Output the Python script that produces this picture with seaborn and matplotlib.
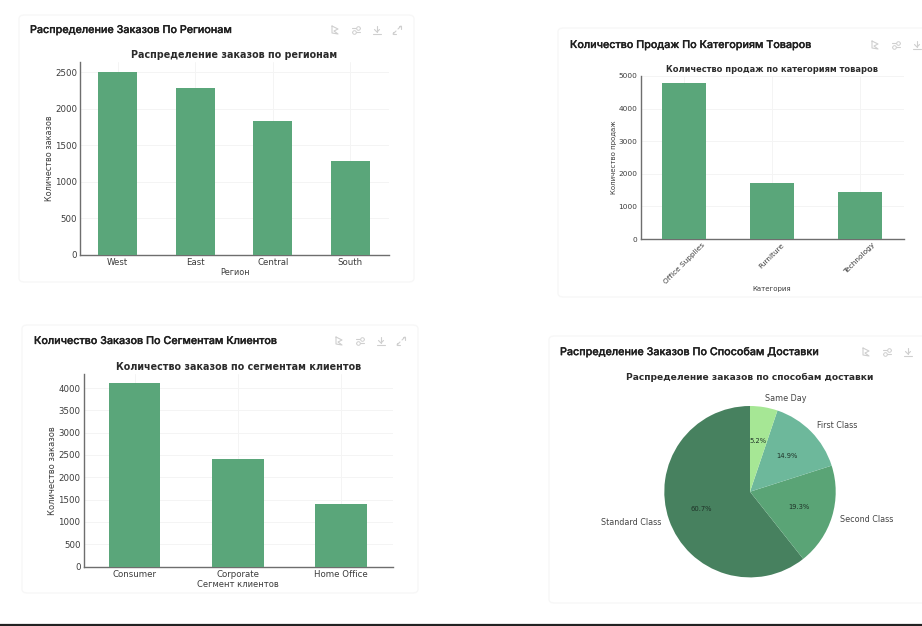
import matplotlib
matplotlib.use("Agg")
import matplotlib.pyplot as plt
import matplotlib.patheffects as pe
from matplotlib.patches import FancyBboxPatch
from matplotlib.lines import Line2D
import pandas as pd
import seaborn as sns

# ---------- data ----------
regions = ["West", "East", "Central", "South"]
region_orders = [2500, 2290, 1834, 1282]

categories = ["Office Supplies", "Furniture", "Technology"]
category_sales = [4775, 1707, 1442]

segments = ["Consumer", "Corporate", "Home Office"]
segment_orders = [4105, 2400, 1406]

ship_modes = ["Standard Class", "Second Class", "First Class", "Same Day"]
ship_shares = [60.66, 19.26, 14.89, 5.19]
ship_colors = ["#47815F", "#5AA476", "#6DB89B", "#A6E795"]

BAR = "#5AA67A"
W, H = 922, 626

sns.set_theme(style="white")
plt.rcParams["font.family"] = ["DejaVu Sans"]
fig = plt.figure(figsize=(W / 100, H / 100), dpi=100, facecolor="white")


def axes_px(left, top, right, bottom):
    return fig.add_axes([left / W, 1 - bottom / H, (right - left) / W, (bottom - top) / H])


def card(left, top, right, bottom):
    fig.add_artist(FancyBboxPatch((left / W, 1 - bottom / H), (right - left) / W, (bottom - top) / H,
                                  boxstyle="round,pad=0,rounding_size=0.006", transform=fig.transFigure,
                                  facecolor="white", edgecolor="#F7F7F7", lw=1.0, zorder=-5))


def icon_line(xs, ys):
    fig.add_artist(Line2D([x / W for x in xs], [1 - y / H for y in ys], color="#CFCFCF", lw=0.8,
                          transform=fig.transFigure))


def icons(xs, y, expand=True):
    x0, x1, x2 = xs[:3]
    # chart-type icon
    icon_line([x0 - 3, x0 + 3, x0 - 1, x0 + 3, x0 - 3, x0 - 3],
              [y - 4, y - 1, y + 1, y + 4, y + 3, y - 4])
    # sliders icon
    icon_line([x1 - 4, x1 + 4], [y - 2, y - 2])
    icon_line([x1 - 4, x1 + 4], [y + 2, y + 2])
    fig.add_artist(Line2D([(x1 + 2) / W, (x1 - 2) / W], [1 - (y - 2) / H, 1 - (y + 2) / H], ls="none",
                          marker="o", ms=2.6, mfc="white", mec="#CFCFCF", mew=0.7, transform=fig.transFigure))
    # download icon
    icon_line([x2, x2], [y - 4, y + 2])
    icon_line([x2 - 2.5, x2, x2 + 2.5], [y - 0.5, y + 2, y - 0.5])
    icon_line([x2 - 4, x2 + 4], [y + 4, y + 4])
    if expand:
        x3 = xs[3]
        icon_line([x3 + 1, x3 + 4], [y - 1, y - 4])
        icon_line([x3 + 1.5, x3 + 4, x3 + 4], [y - 4, y - 4, y - 1.5])
        icon_line([x3 - 1, x3 - 4], [y + 1, y + 4])
        icon_line([x3 - 4, x3 - 4, x3 - 1.5], [y + 1.5, y + 4, y + 4])


def header(text, x, y):
    fig.text(x / W, 1 - y / H, text, ha="left", va="center", fontsize=7.75, color="#1F1F1F",
             family="Inter", fontweight="medium",
             path_effects=[pe.withStroke(linewidth=0.2, foreground="#1F1F1F")])


def bar_chart(box, names, values, title, xlabel, ylabel, ymax, yticks, tsize, lsize, tlsize, title_y,
              first_center, spacing, rot=0):
    ax = axes_px(*box)
    df = pd.DataFrame({"name": names, "value": values})
    sns.barplot(data=df, x="name", y="value", color=BAR, saturation=1, width=0.5, linewidth=0, ax=ax, zorder=3)
    ax.set_xlim((box[0] - first_center) / spacing, (box[2] - first_center) / spacing)
    ax.set_ylim(0, ymax)
    ax.set_yticks(yticks)
    ax.grid(True, color="#F4F4F4", lw=0.7, zorder=0)
    ax.set_axisbelow(True)
    sns.despine(ax=ax)
    for s in ("left", "bottom"):
        ax.spines[s].set_color("#6E6E6E")
        ax.spines[s].set_linewidth(1.0)
    ax.tick_params(axis="both", length=1.2, width=0.5, color="#777777", labelcolor="#3C3C3C",
                   labelsize=tlsize, pad=1)
    if rot:
        plt.setp(ax.get_xticklabels(), rotation=rot, ha="center")
    ax.set_xlabel(xlabel, fontsize=lsize, color="#3C3C3C", labelpad=0.8)
    ax.set_ylabel(ylabel, fontsize=lsize, color="#3C3C3C", labelpad=1)
    fig.text((box[0] + box[2]) / 2 / W, 1 - title_y / H, title, ha="center", va="center",
             fontsize=tsize, fontweight="bold", color="#2B2B2B")
    return ax


card(19, 15, 414, 282)
card(558, 28, 930, 297)
card(22, 325, 418, 593)
card(549, 336, 930, 603)

header("Распределение Заказов По Регионам", 30, 30)
header("Количество Продаж По Категориям Товаров", 570, 45)
header("Количество Заказов По Сегментам Клиентов", 34, 341)
header("Распределение Заказов По Способам Доставки", 560, 352)

icons([335, 356, 377, 397], 30)
icons([875, 896, 917], 45, expand=False)
icons([339, 360, 381, 401], 341)
icons([866, 887, 908], 352, expand=False)

bar_chart((80, 62, 389, 255), regions, region_orders, "Распределение заказов по регионам",
          "Регион", "Количество заказов", 2641, range(0, 2501, 500), 6.95, 5.8, 6.2, 55, 117.7, 77.5)
bar_chart((640.7, 76, 903.5, 239), categories, category_sales, "Количество продаж по категориям товаров",
          "Категория", "Количество продаж", 5000, range(0, 5001, 1000), 5.95, 5.0, 5.3, 69, 684, 87.85, rot=45)
bar_chart((83.5, 374, 393, 566.5), segments, segment_orders, "Количество заказов по сегментам клиентов",
          "Сегмент клиентов", "Количество заказов", 4314, range(0, 4001, 500), 6.95, 6.0, 6.2, 367, 134.7, 103.15)

# pie
side = 2 * 1.25 * 85.7
cx, cy = 750, 491.7
ax = axes_px(cx - side / 2, cy - side / 2, cx + side / 2, cy + side / 2)
_, txt, pct = ax.pie(ship_shares, labels=ship_modes, colors=ship_colors, autopct="%1.1f%%", startangle=90,
                     wedgeprops={"linewidth": 0}, textprops={"fontsize": 5.8, "color": "#444444"})
for p in pct:
    p.set_fontsize(4.9)
    p.set_color("#1F3328")
fig.text(750 / W, 1 - 377.5 / H, "Распределение заказов по способам доставки", ha="center", va="center",
         fontsize=6.6, fontweight="bold", color="#2B2B2B")

# bottom rule of the screenshot
fig.add_artist(Line2D([0, 1], [1 - 625 / H, 1 - 625 / H], color="#222222", lw=1.6, transform=fig.transFigure))

fig.savefig("out.png", dpi=100, facecolor="white")
